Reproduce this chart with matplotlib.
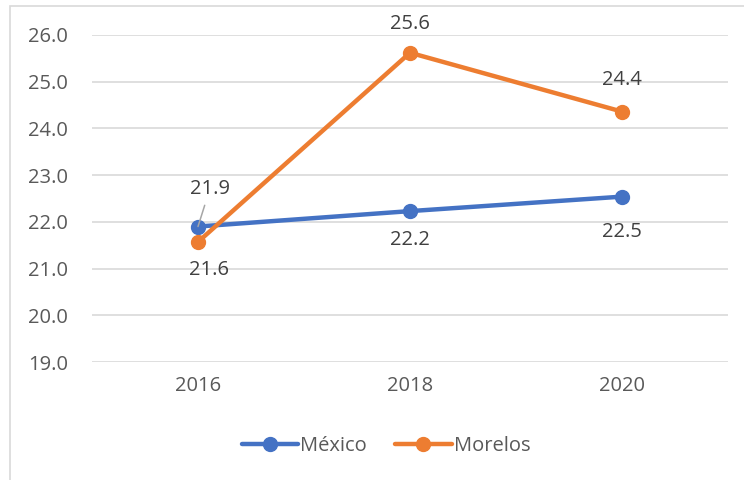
import matplotlib
matplotlib.use("Agg")
import matplotlib.pyplot as plt
import matplotlib.patches as mpatches

years = ["2016", "2018", "2020"]
mexico = [21.9, 22.23, 22.54]
morelos = [21.57, 25.62, 24.36]
mexico_lbl = ["21.9", "22.2", "22.5"]
morelos_lbl = ["21.6", "25.6", "24.4"]

C_MX, C_MO = "#4472C4", "#ED7D31"
TX, LBL, GR = "#595959", "#404040", "#D9D9D9"
FS = 14.5
PX = 0.72  # pixels -> points at 100 dpi

plt.rcParams["font.family"] = ["Open Sans", "DejaVu Sans"]

fig = plt.figure(figsize=(7.44, 4.8), dpi=100)
# outer chart border (Excel chart area)
fig.patches.append(mpatches.Rectangle((10 / 744, -0.05), 1.0, 1 - 6 / 480 + 0.05,
                                      transform=fig.transFigure, fill=False,
                                      edgecolor=GR, lw=1.2))

ax = fig.add_axes([92 / 744, 1 - 362 / 480, (728 - 92) / 744, (362 - 35) / 480])
x = list(range(len(years)))
ax.plot(x, mexico, color=C_MX, lw=3.2, marker="o", ms=10, label="México",
        solid_capstyle="round", zorder=3)
ax.plot(x, morelos, color=C_MO, lw=3.2, marker="o", ms=10, label="Morelos",
        solid_capstyle="round", zorder=4)

ax.set_xlim(-0.5, 2.5)
ax.set_ylim(19, 26)
ax.set_yticks([19, 20, 21, 22, 23, 24, 25, 26])
ax.set_yticklabels([f"{v:.1f}" for v in ax.get_yticks()])
ax.set_xticks(x)
ax.set_xticklabels(years)
ax.tick_params(colors=TX, labelsize=FS, length=0)
ax.tick_params(axis="y", pad=24 * PX)
ax.tick_params(axis="x", pad=14 * PX)
for s in ax.spines.values():
    s.set_visible(False)
ax.yaxis.grid(True, color=GR, lw=1.2)
ax.set_axisbelow(True)

# data labels (offsets in pixels)
mx_off = [(12, 38), (0, -29), (0, -35)]
mo_off = [(11, -28), (0, 29), (0, 32)]
ax.annotate(mexico_lbl[0], (x[0], mexico[0]),
            xytext=(mx_off[0][0] * PX, mx_off[0][1] * PX),
            textcoords="offset points", ha="center", va="center",
            fontsize=FS, color=LBL,
            arrowprops=dict(arrowstyle="-", color="#A6A6A6", lw=1.1,
                            shrinkA=3, shrinkB=0))
for i in (1, 2):
    ax.annotate(mexico_lbl[i], (x[i], mexico[i]),
                xytext=(mx_off[i][0] * PX, mx_off[i][1] * PX),
                textcoords="offset points", ha="center", va="center",
                fontsize=FS, color=LBL)
for i in range(3):
    ax.annotate(morelos_lbl[i], (x[i], morelos[i]),
                xytext=(mo_off[i][0] * PX, mo_off[i][1] * PX),
                textcoords="offset points", ha="center", va="center",
                fontsize=FS, color=LBL)

leg = fig.legend(loc="center", bbox_to_anchor=(386 / 744, 1 - 446 / 480), ncol=2,
                 frameon=False, fontsize=FS, handlelength=2.8,
                 handletextpad=0.1, columnspacing=1.4, labelcolor=TX)

fig.savefig("out.png", dpi=100)
